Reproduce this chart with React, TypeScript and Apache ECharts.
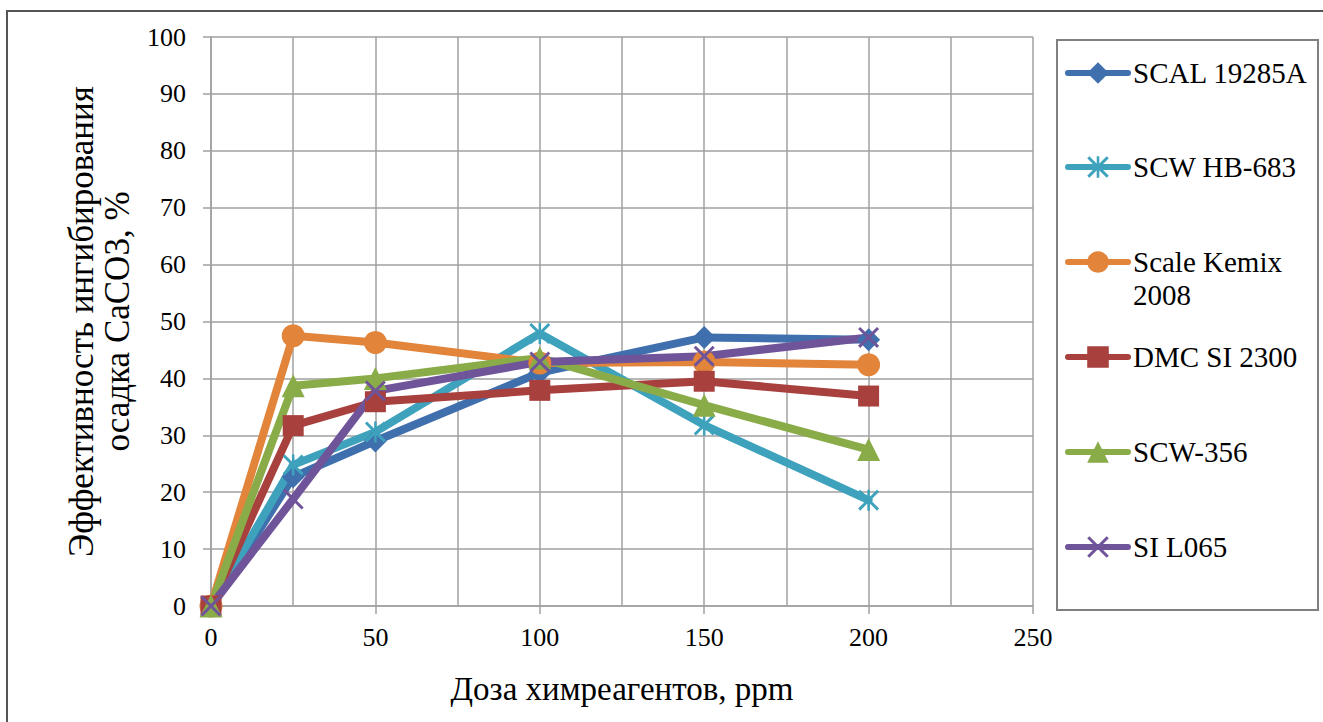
import React, { useEffect, useRef } from "react";
import * as echarts from "echarts";

const doses = [0, 25, 50, 100, 150, 200];
const seriesNames = ["SCAL 19285A", "SCW HB-683", "Scale Kemix 2008", "DMC SI 2300", "SCW-356", "SI L065"];
const scal19285a = [0, 22.7, 29, 41, 47.2, 46.8];
const scwHb683 = [0, 24.8, 30.6, 47.9, 31.8, 18.6];
const scaleKemix2008 = [0, 47.5, 46.3, 42.7, 42.9, 42.4];
const dmcSi2300 = [0, 31.7, 35.9, 37.9, 39.5, 36.9];
const scw356 = [0, 38.7, 40.0, 43.6, 35.3, 27.5];
const siL065 = [0, 18.8, 37.8, 42.9, 43.9, 47.2];
const yTicks = [0, 10, 20, 30, 40, 50, 60, 70, 80, 90, 100];

const colors = ["#3F6FAD", "#3EA2BC", "#E2843A", "#A8403E", "#89AC48", "#70549A"];
const X_PATH = "path://M0,1 L1,0 L10,9 L9,10 Z M9,0 L10,1 L1,10 L0,9 Z";
const STAR_PATH = "path://M0,1 L1,0 L10,9 L9,10 Z M9,0 L10,1 L1,10 L0,9 Z M4.4,0 L5.6,0 L5.6,10 L4.4,10 Z";
const symbols = ["diamond", STAR_PATH, "circle", "rect", "triangle", X_PATH];
const symbolSizes = [23, 21, 23, 21, 23, 21];
const lineWidth = 8;

const FONT = "'Liberation Serif', 'Times New Roman', serif";

export default function App() {
  const ref = useRef<HTMLDivElement>(null);
  useEffect(() => {
    if (!ref.current) return;
    const chart = echarts.init(ref.current, undefined, { renderer: "svg" });
    const values = [scal19285a, scwHb683, scaleKemix2008, dmcSi2300, scw356, siL065];
    const legendCenters = [73, 167, 262, 357, 452, 547];
    const gridColor = "#A0A0A0";
    chart.setOption({
      animation: false,
      backgroundColor: "#ffffff",
      textStyle: { fontFamily: FONT },
      grid: { left: 211, right: 290, top: 37, bottom: 116 },
      xAxis: {
        type: "value",
        min: 0,
        max: 250,
        interval: 50,
        axisLine: { show: true, lineStyle: { color: gridColor, width: 1.5 } },
        axisTick: { show: true, length: 8, lineStyle: { color: gridColor, width: 1.5 } },
        axisLabel: { color: "#000", fontSize: 26, fontFamily: FONT, margin: 18 },
        splitLine: { show: true, lineStyle: { color: gridColor, width: 1.5 } },
        minorTick: { show: false, splitNumber: 2 },
        minorSplitLine: { show: true, lineStyle: { color: gridColor, width: 1.5 } },
        name: "Доза химреагентов, ppm",
        nameLocation: "middle",
        nameGap: 66,
        nameTextStyle: { color: "#000", fontSize: 33, fontFamily: FONT },
      },
      yAxis: {
        type: "value",
        min: yTicks[0],
        max: yTicks[yTicks.length - 1],
        interval: 10,
        axisLine: { show: true, lineStyle: { color: gridColor, width: 1.5 } },
        axisTick: { show: true, length: 8, lineStyle: { color: gridColor, width: 1.5 } },
        axisLabel: { color: "#000", fontSize: 26, fontFamily: FONT, margin: 25 },
        splitLine: { show: true, lineStyle: { color: gridColor, width: 1.5 } },
        name: "Эффективность ингибирования\nосадка CaCO3, %",
        nameLocation: "middle",
        nameGap: 76,
        nameTextStyle: { color: "#000", fontSize: 35, fontFamily: FONT, lineHeight: 36 },
      },
      legend: seriesNames.map((n, i) => ({
        data: [n],
        orient: "vertical",
        left: 1065,
        top: legendCenters[i] - 15,
        padding: 0,
        itemWidth: 60,
        itemHeight: 27,
        itemGap: 0,
        selectedMode: false,
        lineStyle: { width: 6 },
        formatter: (name: string) => (name === "Scale Kemix 2008" ? "Scale Kemix" : name),
        textStyle: { color: "#000", fontSize: 29, fontFamily: FONT, lineHeight: 30 },
      })),
      graphic: [
        {
          type: "rect",
          shape: { x: 7, y: 11, width: 1340, height: 740 },
          style: { fill: "none", stroke: "#555", lineWidth: 2 },
          silent: true,
        },
        {
          type: "rect",
          shape: { x: 1057, y: 40, width: 261, height: 570 },
          style: { fill: "none", stroke: "#808080", lineWidth: 2 },
          silent: true,
        },
        {
          type: "text",
          x: 1133,
          y: 295,
          style: {
            text: "2008",
            fill: "#000",
            font: `29px ${FONT}`,
            verticalAlign: "middle",
            align: "left",
          },
          silent: true,
        },
      ],
      series: seriesNames.map((n, i) => ({
        name: n,
        type: "line",
        data: doses.map((d, j) => [d, values[i][j]]),
        symbol: symbols[i],
        symbolSize: symbolSizes[i],
        clip: false,
        color: colors[i],
        lineStyle: { color: colors[i], width: lineWidth, cap: "round", join: "round" },
        itemStyle: { color: colors[i] },
      })),
    });
    return () => chart.dispose();
  }, []);
  return (
    <div
      ref={ref}
      style={{ position: "fixed", left: 0, top: 0, width: 1323, height: 722, background: "#fff" }}
    />
  );
}
